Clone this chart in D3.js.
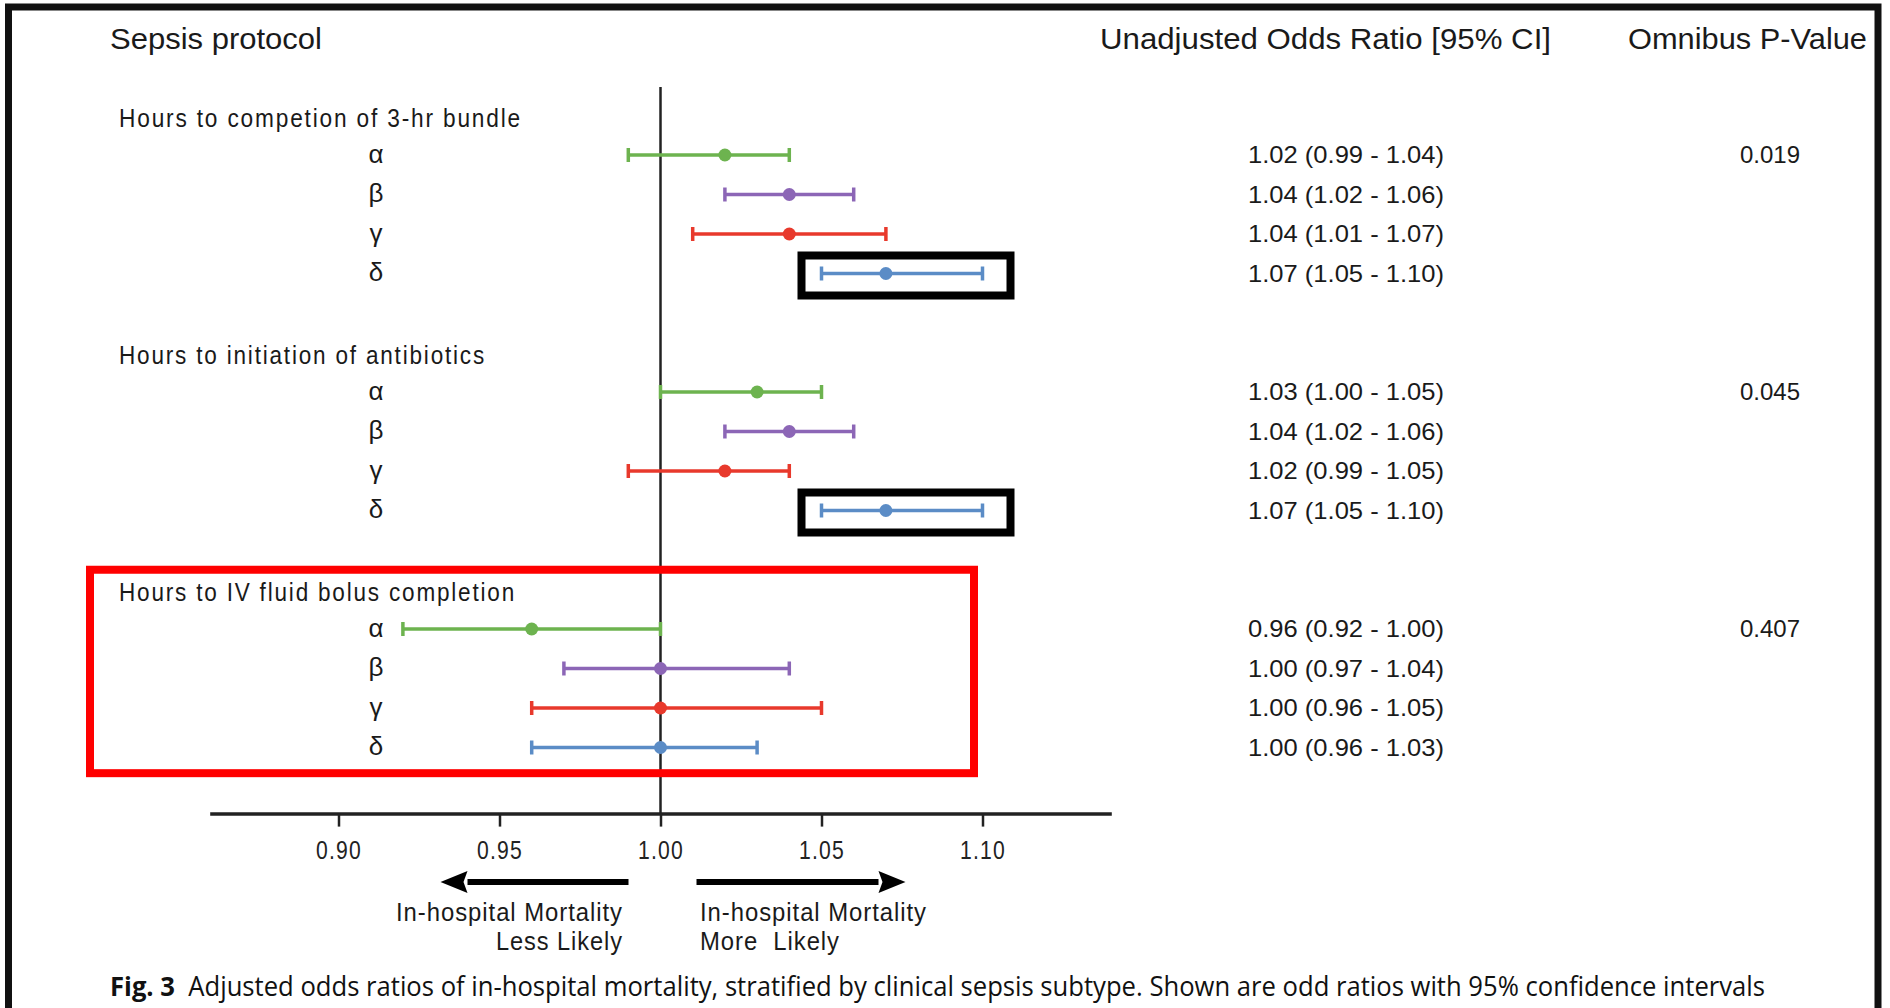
<!DOCTYPE html>
<html>
<head>
<meta charset="utf-8">
<script src="https://cdn.jsdelivr.net/npm/d3@7"></script>
<style>
  html, body { margin: 0; padding: 0; background: #fff; }
  svg { display: block; }
</style>
</head>
<body>
<svg id="chart" width="1890" height="1008"></svg>
<script>
// ---------- data ----------
const groups = [
  "Hours to competion of 3-hr bundle",
  "Hours to initiation of antibiotics",
  "Hours to IV fluid bolus completion"
];
const subtypes = ["α", "β", "γ", "δ"];
const subtypeColors = ["#6db34f", "#8c66b6", "#e8392c", "#5b8cc6"];
// plotted estimates and 95% CI
const oddsRatio = [
  [1.02, 1.04, 1.04, 1.07],
  [1.03, 1.04, 1.02, 1.07],
  [0.96, 1.00, 1.00, 1.00]
];
const ciLower = [
  [0.99, 1.02, 1.01, 1.05],
  [1.00, 1.02, 0.99, 1.05],
  [0.92, 0.97, 0.96, 0.96]
];
const ciUpper = [
  [1.04, 1.06, 1.07, 1.10],
  [1.05, 1.06, 1.04, 1.10],
  [1.00, 1.04, 1.05, 1.03]
];
// printed table text
const orLabels = [
  ["1.02 (0.99 - 1.04)", "1.04 (1.02 - 1.06)", "1.04 (1.01 - 1.07)", "1.07 (1.05 - 1.10)"],
  ["1.03 (1.00 - 1.05)", "1.04 (1.02 - 1.06)", "1.02 (0.99 - 1.05)", "1.07 (1.05 - 1.10)"],
  ["0.96 (0.92 - 1.00)", "1.00 (0.97 - 1.04)", "1.00 (0.96 - 1.05)", "1.00 (0.96 - 1.03)"]
];
const pValues = ["0.019", "0.045", "0.407"];
const xTicks = [0.90, 0.95, 1.00, 1.05, 1.10];
const highlighted = [[0, 3], [1, 3]];   // [group, subtype] boxed in black
const boxedGroup = 2;                   // group boxed in red
const columnHeaders = ["Sepsis protocol", "Unadjusted Odds Ratio [95% CI]", "Omnibus P-Value"];
const arrowLabels = [["In-hospital Mortality", "Less Likely"], ["In-hospital Mortality", "More  Likely"]];
const caption = ["Fig. 3", "Adjusted odds ratios of in-hospital mortality, stratified by clinical sepsis subtype. Shown are odd ratios with 95% confidence intervals"];

// ---------- layout ----------
const SANS = "'Liberation Sans', Arial, sans-serif";
const svg = d3.select("#chart");
const x = d3.scaleLinear().domain([0.86, 1.14]).range([209.7, 1111.3]);
const rowsPerGroup = 6;
const y = d3.scaleLinear().domain([0, 16]).range([115.5, 747.5]);
const rowY = (g, r) => y(g * rowsPerGroup + r + 1);
const headerY = g => y(g * rowsPerGroup) + 3;
const axisY = 813.6;

function fit(sel, w) {
  sel.attr("textLength", w).attr("lengthAdjust", "spacingAndGlyphs");
  return sel;
}
function txt(parent) {
  return parent.append("text").style("font-family", SANS).style("fill", "#1a1a1a");
}

// outer frame (open at the bottom)
svg.append("path")
  .attr("d", "M8.5,1010 V7 H1878 V1010")
  .attr("fill", "none").attr("stroke", "#111").attr("stroke-width", 7);

// column headers
fit(txt(svg).attr("x", 110).attr("y", 49).style("font-size", "30px").text(columnHeaders[0]), 212);
fit(txt(svg).attr("x", 1100).attr("y", 49).style("font-size", "30px").text(columnHeaders[1]), 451);
fit(txt(svg).attr("x", 1628).attr("y", 49).style("font-size", "30px").text(columnHeaders[2]), 239);

// reference line at OR = 1
svg.append("line")
  .attr("x1", x(1)).attr("x2", x(1)).attr("y1", 87).attr("y2", axisY)
  .attr("stroke", "#222").attr("stroke-width", 2.5);

// x axis
const axis = svg.append("g").attr("transform", `translate(0,${axisY})`)
  .call(d3.axisBottom(x).tickValues(xTicks).tickFormat(d3.format(".2f")).tickSize(13).tickSizeOuter(0));
axis.select(".domain").attr("stroke", "#222").attr("stroke-width", 3.5);
axis.selectAll(".tick line").attr("stroke", "#222").attr("stroke-width", 2.5);
axis.selectAll(".tick text")
  .attr("y", 36).attr("dy", "0.35em")
  .style("font-size", "26px").style("font-family", SANS)
  .style("fill", "#222").style("letter-spacing", "1.5px")
  .attr("textLength", 46).attr("lengthAdjust", "spacingAndGlyphs");

// group headers
const headerWidths = [403, 367, 397];
groups.forEach((g, gi) => {
  fit(txt(svg)
    .attr("x", 119).attr("y", headerY(gi)).attr("dy", "0.35em")
    .style("font-size", "25px").style("letter-spacing", "2px")
    .text(g), headerWidths[gi]);
});

// rows
const rows = [];
groups.forEach((g, gi) => subtypes.forEach((s, si) => rows.push({
  gi, si, s, or: oddsRatio[gi][si], lo: ciLower[gi][si], hi: ciUpper[gi][si],
  label: orLabels[gi][si], color: subtypeColors[si]
})));

// subtype labels
svg.append("g").selectAll("text").data(rows).join("text")
  .style("font-family", SANS).style("fill", "#1a1a1a")
  .attr("x", 376).attr("y", d => rowY(d.gi, d.si)).attr("dy", "0.3em")
  .attr("text-anchor", "middle").style("font-size", "26px")
  .text(d => d.s);

// error bars
const bars = svg.append("g").selectAll("g").data(rows).join("g")
  .attr("transform", d => `translate(0,${rowY(d.gi, d.si)})`);
bars.append("line")
  .attr("x1", d => x(d.lo)).attr("x2", d => x(d.hi))
  .attr("stroke", d => d.color).attr("stroke-width", 3.5);
bars.selectAll("line.cap").data(d => [{v: d.lo, c: d.color}, {v: d.hi, c: d.color}]).join("line")
  .attr("class", "cap")
  .attr("x1", d => x(d.v)).attr("x2", d => x(d.v)).attr("y1", -7).attr("y2", 7)
  .attr("stroke", d => d.c).attr("stroke-width", 3.5);
bars.append("circle")
  .attr("cx", d => x(d.or)).attr("r", 6.5).attr("fill", d => d.color);

// odds-ratio text
fit(svg.append("g").selectAll("text").data(rows).join("text")
  .style("font-family", SANS).style("fill", "#1a1a1a")
  .attr("x", 1248).attr("y", d => rowY(d.gi, d.si)).attr("dy", "0.35em")
  .style("font-size", "24px").text(d => d.label), 196);

// p-values
svg.append("g").selectAll("text").data(pValues).join("text")
  .style("font-family", SANS).style("fill", "#1a1a1a")
  .attr("x", 1770).attr("y", (d, i) => rowY(i, 0)).attr("dy", "0.35em")
  .attr("text-anchor", "middle").style("font-size", "24px").text(d => d);

// black highlight boxes
highlighted.forEach(([gi, si]) => {
  const yc = rowY(gi, si);
  svg.append("rect")
    .attr("x", x(ciLower[gi][si]) - 20).attr("y", yc - 18)
    .attr("width", x(ciUpper[gi][si]) + 28 - (x(ciLower[gi][si]) - 20)).attr("height", 40)
    .attr("fill", "none").attr("stroke", "#000").attr("stroke-width", 8);
});

// red box around group
svg.append("rect")
  .attr("x", 90).attr("y", y(boxedGroup * rowsPerGroup - 0.5))
  .attr("width", 884).attr("height", y(boxedGroup * rowsPerGroup + 4.65) - y(boxedGroup * rowsPerGroup - 0.5))
  .attr("fill", "none").attr("stroke", "#ff0000").attr("stroke-width", 8);

// direction arrows
const arrowY = 882;
function arrow(tail, tip) {
  const dir = Math.sign(tip - tail);
  const base = tip - dir * 27;
  svg.append("line").attr("x1", tail).attr("x2", base).attr("y1", arrowY).attr("y2", arrowY)
    .attr("stroke", "#000").attr("stroke-width", 6);
  svg.append("path")
    .attr("d", `M${tip},${arrowY} L${base},${arrowY - 11} L${base + dir * 4},${arrowY} L${base},${arrowY + 11} Z`)
    .attr("fill", "#000");
}
arrow(x(1) - 32, x(1) - 220);
arrow(x(1) + 36, x(1) + 245);

const lineYs = [912.5, 941.5];
const leftW = [227, 127], rightW = [227, 140];
arrowLabels[0].forEach((t, i) => fit(txt(svg)
  .attr("x", 623).attr("y", lineYs[i]).attr("dy", "0.35em").attr("text-anchor", "end")
  .style("font-size", "25px").style("letter-spacing", "1px").text(t), leftW[i]));
arrowLabels[1].forEach((t, i) => fit(txt(svg)
  .attr("x", 700).attr("y", lineYs[i]).attr("dy", "0.35em")
  .style("font-size", "25px").style("letter-spacing", "1px").style("white-space", "pre").text(t), rightW[i]));

// caption
const cap = svg.append("text").attr("x", 110).attr("y", 996)
  .style("font-family", "'Open Sans', 'Noto Sans', sans-serif").style("font-size", "27px")
  .style("fill", "#111").style("white-space", "pre");
cap.append("tspan").style("font-weight", "bold").text(caption[0]);
cap.append("tspan").text("  " + caption[1]);
fit(cap, 1655);
</script>
</body>
</html>
